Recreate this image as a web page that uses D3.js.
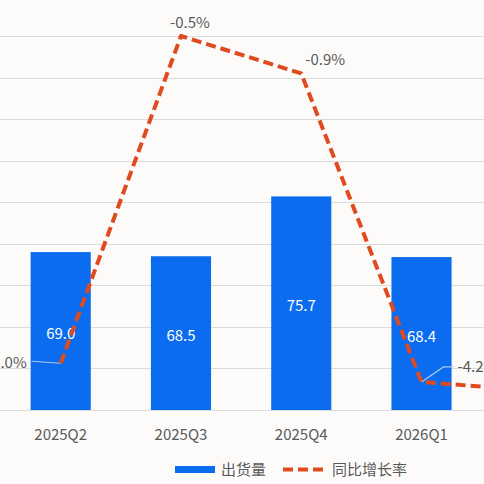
<!DOCTYPE html>
<html>
<head>
<meta charset="utf-8">
<script src="https://cdn.jsdelivr.net/npm/d3@7"></script>
<style>
  html, body { margin: 0; padding: 0; background: #fcfbf9; }
  svg { display: block; font-family: "Noto Sans CJK SC", "Noto Sans", sans-serif; }
</style>
</head>
<body>
<svg id="chart" width="484" height="484"></svg>
<script>
'use strict';

// Chart data (the picture is a crop: the last quarter is off the right edge)
const quarters = ['2025Q2', '2025Q3', '2025Q4', '2026Q1', '2026Q2'];
const shipments = [69.0, 68.5, 75.7, 68.4, null];
const growth = [-4.0, -0.5, -0.9, -4.2, -4.3];
const yTicks = [50, 55, 60, 65, 70, 75, 80, 85, 90, 95];

const blue = '#0b6cf0';
const red = '#e04a1f';
const grey = '#595959';

const svg = d3.select('#chart');
const plotTop = 36;
const plotBottom = 410;

const x = d3.scaleBand()
  .domain(quarters)
  .range([-29.5, 632])
  .padding(0.5);

const y = d3.scaleLinear().domain([50, 95]).range([plotBottom, plotTop]);
const y2 = d3.scaleLinear().domain([-4.5, -0.5]).range([plotBottom, plotTop]);

const cx = d => x(d) + x.bandwidth() / 2;

// ------------------------------  grid  ------------------------------ //
svg.append('g')
  .selectAll('line')
  .data(yTicks)
  .join('line')
  .attr('x1', 0)
  .attr('x2', 484)
  .attr('y1', d => Math.round(y(d)) + 0.5)
  .attr('y2', d => Math.round(y(d)) + 0.5)
  .attr('stroke', '#dcdcdc')
  .attr('stroke-width', 1);

// ------------------------------  bars  ------------------------------ //
const barData = quarters.map((q, i) => ({ q, v: shipments[i] })).filter(d => d.v !== null);

svg.append('g')
  .selectAll('rect')
  .data(barData)
  .join('rect')
  .attr('x', d => x(d.q))
  .attr('width', x.bandwidth())
  .attr('y', d => y(d.v))
  .attr('height', d => plotBottom - y(d.v))
  .attr('fill', blue);

svg.append('g')
  .selectAll('text')
  .data(barData)
  .join('text')
  .attr('x', d => cx(d.q))
  .attr('y', d => (y(d.v) + plotBottom) / 2 + 8)
  .attr('text-anchor', 'middle')
  .attr('fill', '#ffffff')
  .attr('font-size', 15)
  .text(d => d.v.toFixed(1));

// x axis labels (only the quarters inside the crop)
svg.append('g')
  .selectAll('text')
  .data(barData)
  .join('text')
  .attr('x', d => cx(d.q))
  .attr('y', 440)
  .attr('text-anchor', 'middle')
  .attr('fill', grey)
  .attr('font-size', 15)
  .text(d => d.q);

// ------------------------------  growth line  ------------------------------ //
const lineData = quarters.map((q, i) => ({ q, v: growth[i] }));

// leader lines + labels, placement tuned per point
const labelPlace = [
  { dx: -34, dy: 5, anchor: 'end', leader: [[-29, -2]] },
  { dx: 9, dy: -8, anchor: 'middle', leader: null },
  { dx: 24, dy: -8, anchor: 'middle', leader: null },
  { dx: 36, dy: -10, anchor: 'start', leader: [[22, -15], [32, -15]] },
  null
];

const leaders = svg.append('g');
lineData.forEach((d, i) => {
  const p = labelPlace[i];
  if (!p || !p.leader) return;
  const px = cx(d.q);
  const py = y2(d.v);
  const pts = [[px, py]].concat(p.leader.map(l => [px + l[0], py + l[1]]));
  leaders.append('path')
    .attr('d', d3.line()(pts))
    .attr('fill', 'none')
    .attr('stroke', '#a9cbee')
    .attr('stroke-width', 1.2);
});

svg.append('path')
  .datum(lineData)
  .attr('d', d3.line().x(d => cx(d.q)).y(d => y2(d.v)))
  .attr('fill', 'none')
  .attr('stroke', red)
  .attr('stroke-width', 4)
  .attr('stroke-dasharray', '10,5')
  .attr('stroke-linejoin', 'round');

const labelled = lineData.map((d, i) => ({ ...d, p: labelPlace[i] })).filter(d => d.p);

svg.append('g')
  .selectAll('text')
  .data(labelled)
  .join('text')
  .attr('x', d => cx(d.q) + d.p.dx)
  .attr('y', d => y2(d.v) + d.p.dy)
  .attr('text-anchor', d => d.p.anchor)
  .attr('fill', grey)
  .attr('font-size', 15)
  .text(d => `${d.v.toFixed(1)}%`);

// ------------------------------  legend  ------------------------------ //
const legend = svg.append('g').attr('transform', 'translate(175,469.5)');

legend.append('rect')
  .attr('x', 0)
  .attr('y', -3.5)
  .attr('width', 40)
  .attr('height', 7)
  .attr('fill', blue);

legend.append('text')
  .attr('x', 46)
  .attr('y', 5.5)
  .attr('fill', grey)
  .attr('font-size', 15)
  .text('出货量');

legend.append('line')
  .attr('x1', 108)
  .attr('x2', 148)
  .attr('y1', 0)
  .attr('y2', 0)
  .attr('stroke', red)
  .attr('stroke-width', 4)
  .attr('stroke-dasharray', '10,5');

legend.append('text')
  .attr('x', 157)
  .attr('y', 5.5)
  .attr('fill', grey)
  .attr('font-size', 15)
  .text('同比增长率');
</script>
</body>
</html>
